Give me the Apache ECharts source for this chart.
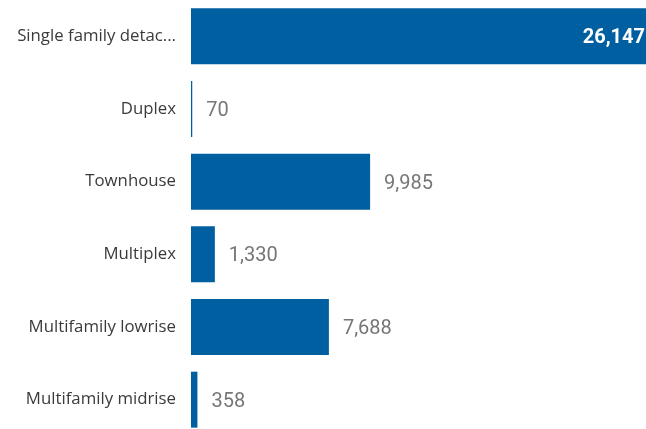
<!DOCTYPE html>
<html><head><meta charset="utf-8">
<script src="https://cdn.jsdelivr.net/npm/echarts@6/dist/echarts.min.js"></script>
<style>html,body{margin:0;padding:0;background:#fff;overflow:hidden}#c{width:646px;height:429px}</style>
</head><body><div id="c"></div>
<script>
const categories = ["Single family detached","Duplex","Townhouse","Multiplex","Multifamily lowrise","Multifamily midrise"];
const values = [26147,70,9985,1330,7688,358];

const chart = echarts.init(document.getElementById('c'), null, {renderer:'canvas'});
const maxV = Math.max(...values);
chart.setOption({
  animation:false,
  grid:{left:191, top:0, width:469, height:436, containLabel:false, outerBoundsMode:'none'},
  xAxis:{type:'value', min:0, max:maxV, show:false},
  yAxis:{type:'category', data:categories, inverse:true,
    axisLine:{show:false}, axisTick:{show:false},
    axisLabel:{margin:15, color:'#3a3a3a', fontFamily:'Open Sans', fontSize:16.8,
      formatter:v=> v.length>19 ? v.slice(0,19)+'...' : v}},
  series:[{type:'bar', data:values.map((v,i)=>({value:v,
      label: i===0 ? {position:'insideRight', distance:15, color:'#fff', fontWeight:'bold'} : {}})),
    barCategoryGap:'23%', itemStyle:{color:'#005FA0'}, clip:false,
    label:{show:true, position:'right', distance:14, offset:[0,2], color:'#767676', fontFamily:'Roboto', fontSize:20,
      formatter:p=>p.value.toLocaleString('en-US')}}]
});
</script></body></html>
